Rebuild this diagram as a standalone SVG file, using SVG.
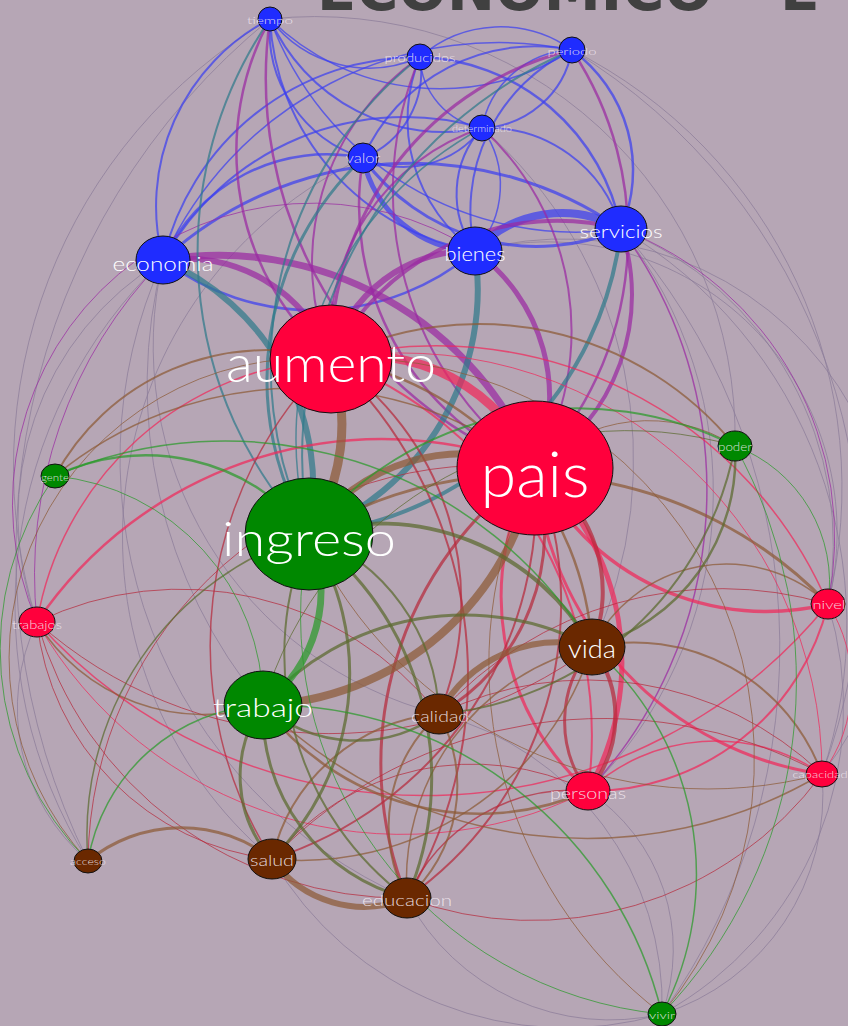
<svg xmlns="http://www.w3.org/2000/svg" width="848" height="1026" viewBox="0 0 848 1026">
<style>
.e path{fill:none;stroke-opacity:.72}
.b{stroke:#3c40f0}
.pu{stroke:#9a2aa2}
.te{stroke:#2f7a8a}
.r{stroke:#f0285a}
.dr{stroke:#b52a3c}
.br{stroke:#8c5a36}
.ol{stroke:#5a6a2e}
.g{stroke:#2a9a2a}
.f{stroke:#8a7c98;stroke-opacity:.5}
.nb{fill:#1f2cff;stroke:#111;stroke-width:1}
.nr{fill:#ff003c;stroke:#111;stroke-width:1}
.ng{fill:#008800;stroke:#111;stroke-width:1}
.nn{fill:#6a2800;stroke:#111;stroke-width:1}
.l{font-family:Lato,"Open Sans",sans-serif;font-weight:300;fill:#ffffff;text-anchor:middle}
.s{fill:#f2e8f0;fill-opacity:.9}
</style>
<rect width="848" height="1026" fill="#b6a6b5"/>
<text x="317" y="10" font-family="DejaVu Sans,sans-serif" font-weight="bold" font-size="58" fill="#404040" textLength="396" lengthAdjust="spacingAndGlyphs">ECONÓMICO</text>
<text x="780" y="10" font-family="DejaVu Sans,sans-serif" font-weight="bold" font-size="58" fill="#404040">E</text>
<g id="connectors" class="e">
<!-- faint long arcs -->
<path class="f" stroke-width="1" d="M270 19 A520 520 0 0 0 37 622"/>
<path class="f" stroke-width="1" d="M270 19 A690 690 0 0 0 88 861"/>
<path class="f" stroke-width="1" d="M163 260 A480 480 0 0 0 88 861"/>
<path class="f" stroke-width="1" d="M163 260 A300 300 0 0 0 37 622"/>
<path class="f" stroke-width="1" d="M621 229 A460 460 0 0 1 822 774"/>
<path class="f" stroke-width="1" d="M621 229 A340 340 0 0 1 828 604"/>
<path class="f" stroke-width="1" d="M572 50 A490 490 0 0 1 828 604"/>
<path class="f" stroke-width="1" d="M572 50 A600 600 0 0 1 822 774"/>
<path class="f" stroke-width="1" d="M621 229 A630 630 0 0 1 662 1014"/>
<path class="f" stroke-width="1" d="M822 774 A230 230 0 0 1 662 1014"/>
<path class="f" stroke-width="1" d="M828 604 A350 350 0 0 1 662 1014"/>
<path class="f" stroke-width="1" d="M588 791 A190 190 0 0 1 662 1014"/>
<path class="f" stroke-width="1" d="M439 714 A300 300 0 0 1 662 1014"/>
<path class="f" stroke-width="1" d="M407 898 A230 230 0 0 0 662 1014"/>
<path class="f" stroke-width="1" d="M272 859 A340 340 0 0 0 662 1014"/>
<path class="f" stroke-width="1" d="M37 622 A200 200 0 0 0 88 861"/>
<path class="f" stroke-width="1" d="M163 260 A500 500 0 0 0 263 705"/>
<path class="f" stroke-width="1" d="M270 19 A420 420 0 0 1 735 446"/>
<path class="f" stroke-width="1" d="M475 251 A330 330 0 0 1 822 774"/>
<path class="f" stroke-width="1" d="M475 251 A290 290 0 0 1 828 604"/>
<path class="f" stroke-width="1" d="M163 260 A380 380 0 0 0 439 714"/>
<path class="f" stroke-width="1" d="M163 260 A480 480 0 0 0 407 898"/>
<path class="f" stroke-width="1" d="M363 158 A420 420 0 0 0 272 859"/>
<path class="f" stroke-width="1" d="M621 229 A420 420 0 0 1 588 791"/>
<path class="f" stroke-width="1" d="M482 128 A440 440 0 0 1 592 647"/>
<!-- blue -->
<path class="b" stroke-width="2" d="M270 19 A211 211 0 0 0 163 260"/>
<path class="b" stroke-width="2" d="M270 19 A248 248 0 0 0 475 251"/>
<path class="b" stroke-width="1.5" d="M270 19 A326 326 0 0 0 621 229"/>
<path class="b" stroke-width="2" d="M270 19 A134 134 0 0 0 363 158"/>
<path class="b" stroke-width="2" d="M270 19 A190 190 0 0 0 482 128"/>
<path class="b" stroke-width="1.5" d="M270 19 A124 124 0 0 0 420 57"/>
<path class="b" stroke-width="1.5" d="M270 19 A243 243 0 0 0 572 50"/>
<path class="b" stroke-width="2" d="M420 57 A262 262 0 0 0 163 260"/>
<path class="b" stroke-width="2" d="M420 57 A162 162 0 0 0 475 251"/>
<path class="b" stroke-width="2.5" d="M420 57 A212 212 0 0 1 621 229"/>
<path class="b" stroke-width="1.5" d="M420 57 A122 122 0 0 1 572 50"/>
<path class="b" stroke-width="2" d="M420 57 A93 93 0 0 1 363 158"/>
<path class="b" stroke-width="1.5" d="M420 57 A75 75 0 0 0 482 128"/>
<path class="b" stroke-width="2.5" d="M572 50 A149 149 0 0 1 621 229"/>
<path class="b" stroke-width="2" d="M572 50 A178 178 0 0 0 475 251"/>
<path class="b" stroke-width="2" d="M572 50 A95 95 0 0 1 482 128"/>
<path class="b" stroke-width="1.5" d="M572 50 A95 95 0 0 0 482 128"/>
<path class="b" stroke-width="2" d="M572 50 A188 188 0 0 0 363 158"/>
<path class="b" stroke-width="1.5" d="M572 50 A368 368 0 0 0 163 260"/>
<path class="b" stroke-width="2" d="M482 128 A98 98 0 0 0 475 251"/>
<path class="b" stroke-width="1.5" d="M482 128 A98 98 0 0 1 475 251"/>
<path class="b" stroke-width="2" d="M482 128 A138 138 0 0 1 621 229"/>
<path class="b" stroke-width="2" d="M482 128 A98 98 0 0 1 363 158"/>
<path class="b" stroke-width="2" d="M482 128 A276 276 0 0 0 163 260"/>
<path class="b" stroke-width="2.5" d="M363 158 A180 180 0 0 0 163 260"/>
<path class="b" stroke-width="5" d="M363 158 A117 117 0 0 0 475 251"/>
<path class="b" stroke-width="3" d="M363 158 A214 214 0 0 0 621 229"/>
<path class="b" stroke-width="3" d="M163 260 A367 367 0 0 1 621 229"/>
<path class="b" stroke-width="2.5" d="M163 260 A250 250 0 0 0 475 251"/>
<path class="b" stroke-width="8" d="M475 251 A118 118 0 0 1 621 229"/>
<!-- purple -->
<path class="pu" stroke-width="6" d="M163 260 A156 156 0 0 1 331 359"/>
<path class="pu" stroke-width="7" d="M163 260 A341 341 0 0 1 535 468"/>
<path class="pu" stroke-width="6" d="M475 251 A144 144 0 0 0 331 359"/>
<path class="pu" stroke-width="5" d="M475 251 A180 180 0 0 1 535 468"/>
<path class="pu" stroke-width="4" d="M621 229 A254 254 0 0 0 331 359"/>
<path class="pu" stroke-width="4" d="M621 229 A203 203 0 0 1 535 468"/>
<path class="pu" stroke-width="2.5" d="M270 19 A276 276 0 0 0 331 359"/>
<path class="pu" stroke-width="2.5" d="M270 19 A417 417 0 0 0 535 468"/>
<path class="pu" stroke-width="2" d="M420 57 A342 342 0 0 0 535 468"/>
<path class="pu" stroke-width="3" d="M572 50 A314 314 0 0 0 331 359"/>
<path class="pu" stroke-width="2.5" d="M572 50 A336 336 0 0 1 535 468"/>
<path class="pu" stroke-width="2.5" d="M363 158 A284 284 0 0 0 535 468"/>
<path class="pu" stroke-width="2" d="M482 128 A275 275 0 0 1 535 468"/>
<path class="pu" stroke-width="2" d="M482 128 A221 221 0 0 0 331 359"/>
<path class="pu" stroke-width="2" d="M420 57 A251 251 0 0 0 331 359"/>
<path class="pu" stroke-width="1" d="M163 260 A450 450 0 0 0 37 622"/>
<path class="pu" stroke-width="1" d="M475 251 A300 300 0 0 0 37 622"/>
<path class="pu" stroke-width="1" d="M621 229 A330 330 0 0 1 828 604"/>
<path class="pu" stroke-width="1.5" d="M621 229 A440 440 0 0 1 588 791"/>
<!-- teal -->
<path class="te" stroke-width="6" d="M163 260 A248 248 0 0 1 309 534"/>
<path class="te" stroke-width="6" d="M475 251 A262 262 0 0 1 309 534"/>
<path class="te" stroke-width="4" d="M621 229 A345 345 0 0 1 309 534"/>
<path class="te" stroke-width="2" d="M270 19 A412 412 0 0 0 309 534"/>
<path class="te" stroke-width="2" d="M420 57 A392 392 0 0 0 309 534"/>
<path class="te" stroke-width="2" d="M572 50 A441 441 0 0 0 309 534"/>
<path class="te" stroke-width="3" d="M363 158 A304 304 0 0 0 309 534"/>
<path class="te" stroke-width="1.5" d="M482 128 A353 353 0 0 0 309 534"/>
<!-- red -->
<path class="r" stroke-width="9" d="M331 359 A185 185 0 0 1 535 468"/>
<path class="r" stroke-width="5" d="M535 468 A261 261 0 0 1 588 791"/>
<path class="r" stroke-width="3" d="M535 468 A261 261 0 0 0 588 791"/>
<path class="r" stroke-width="3.5" d="M535 468 A258 258 0 0 0 828 604"/>
<path class="r" stroke-width="3" d="M535 468 A336 336 0 0 0 822 774"/>
<path class="r" stroke-width="2.5" d="M535 468 A417 417 0 0 0 37 622"/>
<path class="r" stroke-width="2" d="M331 359 A402 402 0 0 1 588 791"/>
<path class="r" stroke-width="1.5" d="M331 359 A426 426 0 0 1 828 604"/>
<path class="r" stroke-width="1.5" d="M331 359 A316 316 0 0 0 37 622"/>
<path class="r" stroke-width="2" d="M588 791 A244 244 0 0 0 828 604"/>
<path class="r" stroke-width="1.5" d="M588 791 A188 188 0 0 1 822 774"/>
<path class="r" stroke-width="1.5" d="M37 622 A520 520 0 0 0 828 604"/>
<path class="r" stroke-width="1" d="M37 622 A420 420 0 0 0 588 791"/>
<path class="r" stroke-width="1" d="M331 359 A420 420 0 0 1 822 774"/>
<path class="r" stroke-width="1" d="M828 604 A150 150 0 0 1 822 774"/>
<!-- dark red -->
<path class="dr" stroke-width="4" d="M535 468 A147 147 0 0 1 592 647"/>
<path class="dr" stroke-width="3" d="M535 468 A211 211 0 0 1 439 714"/>
<path class="dr" stroke-width="3" d="M535 468 A360 360 0 0 0 407 898"/>
<path class="dr" stroke-width="2" d="M535 468 A360 360 0 0 1 407 898"/>
<path class="dr" stroke-width="2" d="M535 468 A379 379 0 0 1 272 859"/>
<path class="dr" stroke-width="2" d="M331 359 A435 435 0 0 1 407 898"/>
<path class="dr" stroke-width="2" d="M331 359 A292 292 0 0 1 439 714"/>
<path class="dr" stroke-width="1.5" d="M331 359 A400 400 0 0 0 272 859"/>
<path class="dr" stroke-width="4" d="M588 791 A115 115 0 0 0 592 647"/>
<path class="dr" stroke-width="3" d="M588 791 A115 115 0 0 1 592 647"/>
<path class="dr" stroke-width="1" d="M37 622 A330 330 0 0 1 439 714"/>
<path class="dr" stroke-width="1" d="M37 622 A267 267 0 0 0 272 859"/>
<path class="dr" stroke-width="1" d="M37 622 A440 440 0 0 0 592 647"/>
<path class="dr" stroke-width="1" d="M37 622 A380 380 0 0 0 407 898"/>
<path class="dr" stroke-width="1" d="M822 774 A340 340 0 0 0 439 714"/>
<path class="dr" stroke-width="1" d="M822 774 A460 460 0 0 0 272 859"/>
<path class="dr" stroke-width="1" d="M822 774 A360 360 0 0 1 407 898"/>
<path class="dr" stroke-width="1" d="M828 604 A380 380 0 0 0 439 714"/>
<path class="dr" stroke-width="1" d="M588 791 A260 260 0 0 0 272 859"/>
<path class="dr" stroke-width="1.5" d="M588 791 A180 180 0 0 0 407 898"/>
<path class="dr" stroke-width="1" d="M88 861 A400 400 0 0 1 535 468"/>
<!-- brown -->
<path class="br" stroke-width="9" d="M331 359 A200 200 0 0 1 309 534"/>
<path class="br" stroke-width="7" d="M535 468 A188 188 0 0 0 309 534"/>
<path class="br" stroke-width="8" d="M535 468 A288 288 0 0 1 263 705"/>
<path class="br" stroke-width="6" d="M592 647 A134 134 0 0 0 439 714"/>
<path class="br" stroke-width="6" d="M272 859 A112 112 0 0 0 407 898"/>
<path class="br" stroke-width="3" d="M88 861 A147 147 0 0 1 272 859"/>
<path class="br" stroke-width="2.5" d="M331 359 A310 310 0 0 1 592 647"/>
<path class="br" stroke-width="2.5" d="M263 705 A270 270 0 0 0 588 791"/>
<path class="br" stroke-width="1.5" d="M592 647 A305 305 0 0 1 272 859"/>
<path class="br" stroke-width="1.5" d="M592 647 A240 240 0 0 0 407 898"/>
<path class="br" stroke-width="2" d="M439 714 A150 150 0 0 1 407 898"/>
<path class="br" stroke-width="2" d="M439 714 A150 150 0 0 0 407 898"/>
<path class="br" stroke-width="2" d="M439 714 A187 187 0 0 0 272 859"/>
<path class="br" stroke-width="2" d="M55 476 A240 240 0 0 1 331 359"/>
<path class="br" stroke-width="1.5" d="M55 476 A385 385 0 0 1 535 468"/>
<path class="br" stroke-width="2" d="M331 359 A330 330 0 0 1 735 446"/>
<path class="br" stroke-width="3" d="M309 534 A420 420 0 0 1 828 604"/>
<path class="br" stroke-width="2" d="M592 647 A200 200 0 0 1 822 774"/>
<path class="br" stroke-width="1.5" d="M37 622 A195 195 0 0 0 263 705"/>
<path class="br" stroke-width="1.5" d="M263 705 A460 460 0 0 0 822 774"/>
<path class="br" stroke-width="1" d="M309 534 A440 440 0 0 0 822 774"/>
<path class="br" stroke-width="1.5" d="M592 647 A150 150 0 0 1 828 604"/>
<path class="br" stroke-width="1" d="M535 468 A160 160 0 0 1 735 446"/>
<path class="br" stroke-width="1" d="M88 861 A300 300 0 0 1 331 359"/>
<path class="br" stroke-width="1" d="M662 1014 A440 440 0 0 1 535 468"/>
<path class="br" stroke-width="1" d="M662 1014 A400 400 0 0 0 331 359"/>
<!-- olive -->
<path class="ol" stroke-width="3" d="M592 647 A270 270 0 0 0 263 705"/>
<path class="ol" stroke-width="4" d="M309 534 A244 244 0 0 1 592 647"/>
<path class="ol" stroke-width="3" d="M309 534 A260 260 0 0 1 272 859"/>
<path class="ol" stroke-width="3" d="M309 534 A304 304 0 0 1 407 898"/>
<path class="ol" stroke-width="2" d="M309 534 A304 304 0 0 0 407 898"/>
<path class="ol" stroke-width="2" d="M309 534 A200 200 0 0 1 439 714"/>
<path class="ol" stroke-width="3" d="M263 705 A123 123 0 0 0 272 859"/>
<path class="ol" stroke-width="3" d="M263 705 A192 192 0 0 0 407 898"/>
<path class="ol" stroke-width="2.5" d="M263 705 A141 141 0 0 0 439 714"/>
<path class="ol" stroke-width="2.5" d="M735 446 A197 197 0 0 1 592 647"/>
<path class="ol" stroke-width="1.5" d="M88 861 A315 315 0 0 1 309 534"/>
<path class="ol" stroke-width="2" d="M735 446 A330 330 0 0 1 439 714"/>
<path class="ol" stroke-width="1" d="M735 446 A380 380 0 0 0 263 705"/>
<!-- green -->
<path class="g" stroke-width="7" d="M309 534 A141 141 0 0 1 263 705"/>
<path class="g" stroke-width="2.5" d="M309 534 A209 209 0 0 0 55 476"/>
<path class="g" stroke-width="2" d="M309 534 A349 349 0 0 1 735 446"/>
<path class="g" stroke-width="1.5" d="M263 705 A404 404 0 0 1 662 1014"/>
<path class="g" stroke-width="1" d="M735 446 A146 146 0 0 1 828 604"/>
<path class="g" stroke-width="1" d="M55 476 A230 230 0 0 1 263 705"/>
<path class="g" stroke-width="1.5" d="M55 476 A430 430 0 0 1 592 647"/>
<path class="g" stroke-width="1.5" d="M88 861 A187 187 0 0 1 263 705"/>
<path class="g" stroke-width="1.5" d="M592 647 A300 300 0 0 1 662 1014"/>
<path class="g" stroke-width="1" d="M309 534 A400 400 0 0 0 662 1014"/>
<path class="g" stroke-width="1" d="M735 446 A480 480 0 0 1 662 1014"/>
<path class="g" stroke-width="1" d="M55 476 A300 300 0 0 0 88 861"/>
</g>
<g id="n-tiempo"><circle class="nb" cx="270" cy="19" r="12"/><text class="l s" x="270" y="24" font-size="10" textLength="46" lengthAdjust="spacingAndGlyphs">tiempo</text></g>
<g id="n-producidos"><circle class="nb" cx="420" cy="57" r="13"/><text class="l s" x="420" y="62" font-size="11" textLength="71" lengthAdjust="spacingAndGlyphs">producidos</text></g>
<g id="n-periodo"><circle class="nb" cx="572" cy="50" r="13"/><text class="l s" x="572" y="55" font-size="10" textLength="49" lengthAdjust="spacingAndGlyphs">periodo</text></g>
<g id="n-determinado"><circle class="nb" cx="482" cy="128" r="13"/><text class="l s" x="482" y="132" font-size="9" textLength="60" lengthAdjust="spacingAndGlyphs">determinado</text></g>
<g id="n-valor"><circle class="nb" cx="363" cy="158" r="15"/><text class="l s" x="363" y="163" font-size="13" textLength="35" lengthAdjust="spacingAndGlyphs">valor</text></g>
<g id="n-economia"><ellipse class="nb" cx="163" cy="260" rx="27" ry="24"/><text class="l" x="163" y="271" font-size="20" textLength="101" lengthAdjust="spacingAndGlyphs">economia</text></g>
<g id="n-bienes"><ellipse class="nb" cx="475" cy="251" rx="27" ry="24"/><text class="l" x="475" y="261" font-size="19" textLength="61" lengthAdjust="spacingAndGlyphs">bienes</text></g>
<g id="n-servicios"><ellipse class="nb" cx="621" cy="229" rx="26" ry="23"/><text class="l" x="621" y="238" font-size="18" textLength="83" lengthAdjust="spacingAndGlyphs">servicios</text></g>
<g id="n-aumento"><ellipse class="nr" cx="331" cy="359" rx="61" ry="54"/><text class="l" x="331" y="382" font-size="52" textLength="210" lengthAdjust="spacingAndGlyphs">aumento</text></g>
<g id="n-pais"><ellipse class="nr" cx="535" cy="468" rx="78" ry="67"/><text class="l" x="535" y="497" font-size="64" textLength="109" lengthAdjust="spacingAndGlyphs">pais</text></g>
<g id="n-ingreso"><ellipse class="ng" cx="309" cy="534" rx="64" ry="56"/><text class="l" x="309" y="556" font-size="48" textLength="174" lengthAdjust="spacingAndGlyphs">ingreso</text></g>
<g id="n-gente"><ellipse class="ng" cx="55" cy="476" rx="14" ry="12"/><text class="l s" x="55" y="481" font-size="10" textLength="28" lengthAdjust="spacingAndGlyphs">gente</text></g>
<g id="n-trabajos"><ellipse class="nr" cx="37" cy="622" rx="18" ry="15"/><text class="l s" x="37" y="629" font-size="11" textLength="50" lengthAdjust="spacingAndGlyphs">trabajos</text></g>
<g id="n-poder"><ellipse class="ng" cx="735" cy="446" rx="17" ry="15"/><text class="l s" x="735" y="451" font-size="11" textLength="34" lengthAdjust="spacingAndGlyphs">poder</text></g>
<g id="n-nivel"><ellipse class="nr" cx="828" cy="604" rx="17" ry="15"/><text class="l s" x="829" y="609" font-size="12" textLength="33" lengthAdjust="spacingAndGlyphs">nivel</text></g>
<g id="n-vida"><ellipse class="nn" cx="592" cy="647" rx="33" ry="28"/><text class="l" x="592" y="658" font-size="26" textLength="48" lengthAdjust="spacingAndGlyphs">vida</text></g>
<g id="n-trabajo"><ellipse class="ng" cx="263" cy="705" rx="39" ry="34"/><text class="l" x="263" y="717" font-size="26" textLength="100" lengthAdjust="spacingAndGlyphs">trabajo</text></g>
<g id="n-calidad"><ellipse class="nn" cx="439" cy="714" rx="24" ry="20"/><text class="l s" x="440" y="722" font-size="16" textLength="58" lengthAdjust="spacingAndGlyphs">calidad</text></g>
<g id="n-personas"><ellipse class="nr" cx="588" cy="791" rx="22" ry="19"/><text class="l s" x="588" y="799" font-size="15" textLength="76" lengthAdjust="spacingAndGlyphs">personas</text></g>
<g id="n-capacidad"><ellipse class="nr" cx="822" cy="774" rx="16" ry="13"/><text class="l s" x="820" y="778" font-size="10" textLength="55" lengthAdjust="spacingAndGlyphs">capacidad</text></g>
<g id="n-salud"><ellipse class="nn" cx="272" cy="859" rx="24" ry="20"/><text class="l s" x="272" y="866" font-size="16" textLength="44" lengthAdjust="spacingAndGlyphs">salud</text></g>
<g id="n-educacion"><ellipse class="nn" cx="407" cy="898" rx="24" ry="20"/><text class="l s" x="407" y="906" font-size="16" textLength="90" lengthAdjust="spacingAndGlyphs">educacion</text></g>
<g id="n-acceso"><ellipse class="nn" cx="88" cy="861" rx="14" ry="12"/><text class="l s" x="88" y="865" font-size="9" textLength="36" lengthAdjust="spacingAndGlyphs">acceso</text></g>
<g id="n-vivir"><ellipse class="ng" cx="662" cy="1014" rx="14" ry="12"/><text class="l s" x="662" y="1019" font-size="10" textLength="26" lengthAdjust="spacingAndGlyphs">vivir</text></g>
</svg>
